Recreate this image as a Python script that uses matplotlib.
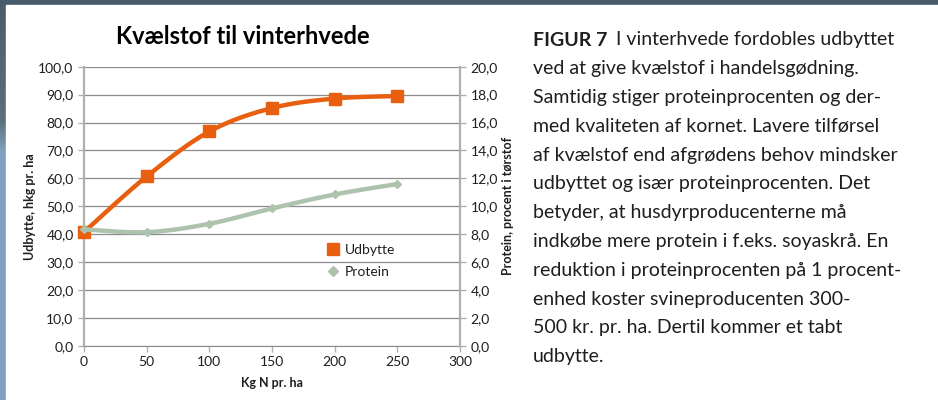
import numpy as np
import matplotlib
matplotlib.use("Agg")
import matplotlib.pyplot as plt
from matplotlib.lines import Line2D
from matplotlib.patches import Rectangle

plt.rcParams['font.family'] = ['Lato', 'DejaVu Sans']

# Data
kg_n = [0, 50, 100, 150, 200, 250]
udbytte = [40.8, 60.7, 76.8, 85.2, 88.6, 89.5]
protein = [8.35, 8.15, 8.75, 9.85, 10.85, 11.6]

left_ticks = [0, 10, 20, 30, 40, 50, 60, 70, 80, 90, 100]
right_ticks = [0, 2, 4, 6, 8, 10, 12, 14, 16, 18, 20]
x_ticks = [0, 50, 100, 150, 200, 250, 300]

caption = [
    "ved at give kvælstof i handelsgødning.",
    "Samtidig stiger proteinprocenten og der-",
    "med kvaliteten af kornet. Lavere tilførsel",
    "af kvælstof end afgrødens behov mindsker",
    "udbyttet og især proteinprocenten. Det",
    "betyder, at husdyrproducenterne må",
    "indkøbe mere protein i f.eks. soyaskrå. En",
    "reduktion i proteinprocenten på 1 procent-",
    "enhed koster svineproducenten 300-",
    "500 kr. pr. ha. Dertil kommer et tabt",
    "udbytte.",
]

ORANGE = '#e8600f'
SAGE = '#aec3ad'
GRID = '#8c8c8c'
AXIS = '#b0b0b0'
TXT = '#1e1e1e'


# Excel-like smoothed line (Catmull-Rom through the points)
def smooth(xs, ys, n=30):
    pts = np.column_stack([xs, ys]).astype(float)
    pts = np.vstack([pts[0], pts, pts[-1]])
    out = []
    for i in range(1, len(pts) - 2):
        p0, p1, p2, p3 = pts[i - 1], pts[i], pts[i + 1], pts[i + 2]
        t = np.linspace(0, 1, n)[:, None]
        seg = 0.5 * ((2 * p1) + (-p0 + p2) * t
                     + (2 * p0 - 5 * p1 + 4 * p2 - p3) * t ** 2
                     + (-p0 + 3 * p1 - 3 * p2 + p3) * t ** 3)
        out.append(seg)
    out = np.vstack(out)
    return out[:, 0], out[:, 1]


fig = plt.figure(figsize=(9.38, 4.0), dpi=100)

# photo-like backdrop along the edges
bg = fig.add_axes([0, 0, 1, 1])
grad = np.linspace(0, 1, 200)[:, None]
top_c = np.array([72, 92, 108]) / 255
mid_c = np.array([92, 112, 122]) / 255
low_c = np.array([128, 162, 192]) / 255
cols = np.where(grad[..., None] < 0.3,
                top_c + (mid_c - top_c) * (grad[..., None] / 0.3),
                mid_c + (low_c - mid_c) * np.clip((grad[..., None] - 0.3) / 0.08, 0, 1))
bg.imshow(np.repeat(cols, 4, axis=1), aspect='auto', extent=[0, 1, 0, 1])
bg.add_patch(Rectangle((6 / 938, 0), 1, 1 - 5 / 400, color='white', zorder=2))
bg.set_xlim(0, 1)
bg.set_ylim(0, 1)
bg.axis('off')

ax = fig.add_axes([84 / 938, 1 - 346 / 400, 376 / 938, 279.3 / 400])
ax2 = ax.twinx()

ax.set_xlim(0, 300)
ax.set_ylim(0, 100)
ax2.set_ylim(0, 20)
ax.set_xticks(x_ticks)
ax.set_yticks(left_ticks)
ax2.set_yticks(right_ticks)
ax.set_yticklabels([f"{v:.1f}".replace('.', ',') for v in left_ticks])
ax2.set_yticklabels([f"{v:.1f}".replace('.', ',') for v in right_ticks])
ax.grid(axis='y', color=GRID, linewidth=0.9)
ax.set_axisbelow(True)

for a in (ax, ax2):
    a.set_facecolor('none')
    for s in a.spines.values():
        s.set_visible(False)
    a.tick_params(colors=AXIS, labelcolor=TXT, labelsize=10, length=4, width=1)
ax.spines['left'].set_visible(True)
ax.spines['bottom'].set_visible(True)
ax2.spines['right'].set_visible(True)
ax.spines['left'].set_color(AXIS)
ax.spines['left'].set_linewidth(1.6)
ax.spines['bottom'].set_color(GRID)
ax2.spines['right'].set_color(AXIS)
ax2.spines['right'].set_linewidth(1.6)

sx, sy = smooth(kg_n, udbytte)
ax.plot(sx, sy, color=ORANGE, linewidth=3.2, solid_capstyle='round', zorder=3)
ax.plot(kg_n, udbytte, 's', color=ORANGE, markersize=9, zorder=4, clip_on=False)

px, py = smooth(kg_n, protein)
ax2.plot(px, py, color=SAGE, linewidth=3.2, solid_capstyle='round', zorder=3)
ax2.plot(kg_n, protein, 'D', color=SAGE, markersize=4.5, zorder=4, clip_on=False)

ax.set_xlabel("Kg N pr. ha", fontsize=9, fontweight='bold', color=TXT, labelpad=6)
ax.set_ylabel("Udbytte, hkg pr. ha", fontsize=9, fontweight='bold', color=TXT, labelpad=2)
ax2.set_ylabel("Protein, procent i tørstof", fontsize=9, fontweight='bold', color=TXT, labelpad=3)

handles = [Line2D([], [], marker='s', linestyle='none', color=ORANGE, markersize=8),
           Line2D([], [], marker='D', linestyle='none', color=SAGE, markersize=5)]
ax2.legend(handles, ["Udbytte", "Protein"], loc='center left',
           bbox_to_anchor=(0.615, 0.305), frameon=False, fontsize=10,
           handlelength=0.8, handletextpad=0.4, labelspacing=0.75,
           labelcolor=TXT)

fig.text(243 / 938, 1 - 37 / 400, "Kvælstof til vinterhvede", ha='center', va='center',
         fontsize=17, fontweight='bold', color='black')

# caption block on the right
x0 = 533 / 938
y_first = 40
step = 28.8
head = fig.text(x0, 1 - y_first / 400, "FIGUR 7", ha='left', va='center',
                fontsize=14, fontweight='bold', color=TXT)
fig.canvas.draw()
bb = head.get_window_extent(fig.canvas.get_renderer())
fig.text((bb.x1 + 9) / 938, 1 - y_first / 400, "I vinterhvede fordobles udbyttet",
         ha='left', va='center', fontsize=14, color=TXT)
for i, line in enumerate(caption, start=1):
    fig.text(x0, 1 - (y_first + i * step) / 400, line, ha='left', va='center',
             fontsize=14, color=TXT)

fig.savefig("out.png", dpi=100)
